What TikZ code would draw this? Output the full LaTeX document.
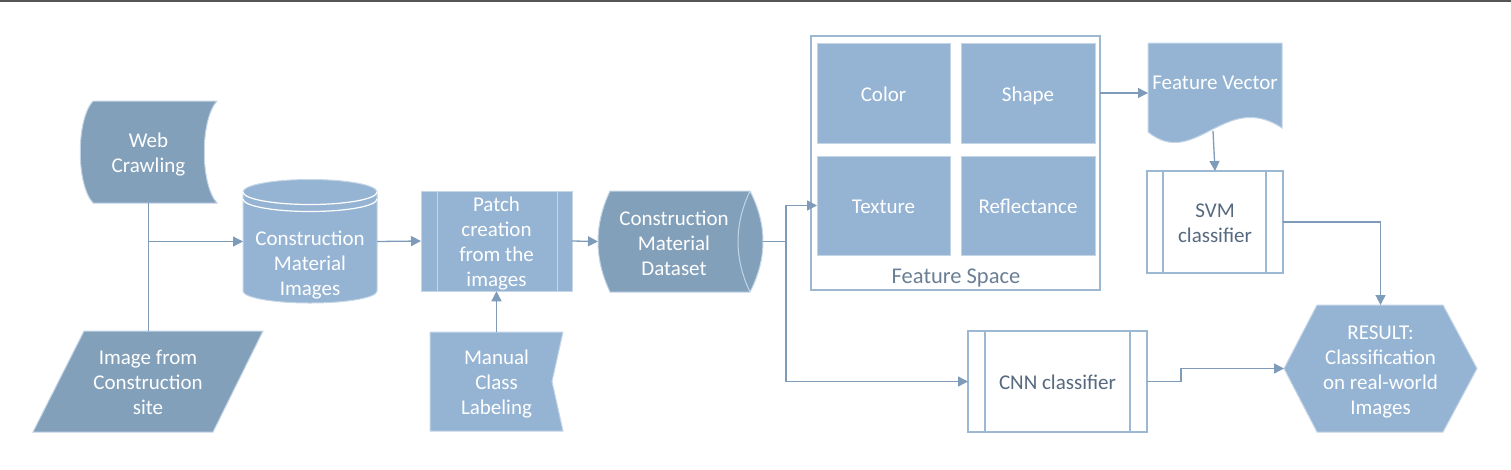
\documentclass[tikz,border=0pt]{standalone}
\usepackage{fontspec}
\setmainfont{Carlito}
\usetikzlibrary{arrows.meta,calc}
\definecolor{dk}{HTML}{82A0BA}
\definecolor{lt}{HTML}{95B4D3}
\definecolor{fl}{HTML}{C4D5E6}
\definecolor{wb}{HTML}{9DB8D3}
\definecolor{lnc}{HTML}{7E9CB9}
\definecolor{txd}{HTML}{56697F}
\definecolor{fst}{HTML}{6A7F95}
\definecolor{topl}{HTML}{555555}
\newcommand{\mytxt}[1]{\rule{0pt}{21pt}#1\rule[-4.5pt]{0pt}{4.5pt}}
\begin{document}
\begin{tikzpicture}[x=1pt,y=-1pt,
  every node/.style={inner sep=0pt, outer sep=0pt},
  lbl/.style={font=\fontsize{21}{25}\selectfont, align=center},
  wl/.style={lbl, text=white},
  gl/.style={lbl, text=txd},
  fillshape/.style={draw=fl, line width=1pt},
  whitebox/.style={draw=wb, line width=1.2pt, fill=white},
  fbox/.style={wl, fill=lt, draw=fl, line width=1pt},
  con/.style={draw=lnc, line width=1.3pt},
  arr/.style={con, -{Triangle[length=10pt,width=10pt]}},
]
\useasboundingbox (0,0) rectangle (1511,469);
\draw[topl, line width=1.5pt] (0,0.75) -- (1511,0.75);

% Web crawling
\filldraw[fill=dk, fillshape] (93,101) -- (217,101) .. controls (200,120) and (200,184) .. (217,203) -- (93,203) .. controls (76,184) and (76,120) .. (93,101) -- cycle;
\node[wl, minimum width=137pt, minimum height=102pt] (wc) at (148.5,152) {\mytxt{Web\\Crawling}};

% Image from construction site
\filldraw[fill=dk, fillshape] (84,331) -- (263,331) -- (213,432) -- (33,432) -- cycle;
\node[wl, minimum width=230pt, minimum height=101pt] (ims) at (148,381.5) {\mytxt{Image from\\Construction\\site}};

% Cylinder
\filldraw[fill=lt, fillshape] (243,192) -- (243,291) arc[start angle=180,end angle=0,x radius=67,y radius=12] -- (377,192) arc[start angle=0,end angle=-180,x radius=67,y radius=12.5] -- cycle;
\draw[white, line width=1.2pt] (377,192) arc[start angle=0,end angle=180,x radius=67,y radius=12.5];
\draw[white, line width=1.2pt] (377,199) arc[start angle=0,end angle=180,x radius=67,y radius=12.5];
\node[minimum width=134pt, minimum height=124pt] (cyl) at (310,241.5) {};
\node[wl] (cylt) at (310,262) {\mytxt{Construction\\Material\\Images}};

% Patch creation
\filldraw[fill=lt, fillshape] (421,191) rectangle (572,291);
\draw[fl, line width=1pt] (437,191) -- (437,291) (557,191) -- (557,291);
\node[wl, minimum width=151pt, minimum height=100pt] (pc) at (496.5,241) {\mytxt{Patch\\creation\\from the\\images}};

% Manual class labeling
\filldraw[fill=lt, fillshape] (430,332) -- (563,332) -- (552,381.5) -- (563,431) -- (430,431) -- cycle;
\node[wl, minimum width=133pt, minimum height=99pt] (mcl) at (496.5,381.5) {\mytxt{Manual\\Class\\Labeling}};

% Dataset
\filldraw[fill=dk, fillshape] (610,191) -- (750,191) .. controls (767.3,224.7) and (767.3,258.3) .. (750,292) -- (610,292) .. controls (594,258.3) and (594,224.7) .. (610,191) -- cycle;
\draw[fl, line width=1pt] (750,191) .. controls (734,224.7) and (734,258.3) .. (750,292);
\node[minimum width=165pt, minimum height=101pt] (ds) at (680.5,241.5) {};
\node[wl] (dst) at (674,242) {\mytxt{Construction\\Material\\Dataset}};

% Feature space
\node[whitebox, minimum width=289pt, minimum height=254pt] (fs) at (955.5,163) {};
\node[fbox, minimum width=133pt, minimum height=100pt] (col) at (883.5,93) {\mytxt{Color}};
\node[fbox, minimum width=134pt, minimum height=100pt] (shp) at (1028,93) {\mytxt{Shape}};
\node[fbox, minimum width=133pt, minimum height=99pt] (tex) at (883.5,205.5) {\mytxt{Texture}};
\node[fbox, minimum width=134pt, minimum height=99pt] (ref) at (1028,205.5) {\mytxt{Reflectance}};
\node[lbl, font=\fontsize{22.5}{26}\selectfont, text=fst] (fsl) at (956,275) {\mytxt{Feature Space}};

% Feature vector
\filldraw[fill=lt, fillshape] (1148,43) -- (1282,43) -- (1282,128) .. controls (1225,90) and (1195,170) .. (1148,132) -- cycle;
\node[minimum width=134pt, minimum height=100pt] (fv) at (1215,93) {};
\node[wl] (fvt) at (1215,81) {\mytxt{Feature Vector}};
\coordinate (fvb) at (1213,131);

% SVM
\node[whitebox, gl, minimum width=136pt, minimum height=102pt] (svm) at (1215,222) {\mytxt{SVM\\classifier}};
\draw[wb, line width=1.2pt] (1163,171) -- (1163,273) (1266,171) -- (1266,273);

% CNN
\node[whitebox, gl, minimum width=179pt, minimum height=101pt] (cnn) at (1057.5,381.5) {\mytxt{CNN classifier}};
\draw[wb, line width=1.2pt] (985,331) -- (985,432) (1130,331) -- (1130,432);

% Result
\filldraw[fill=lt, fillshape] (1317,305) -- (1443,305) -- (1477,368.5) -- (1443,432) -- (1317,432) -- (1284,368.5) -- cycle;
\node[wl, minimum width=193pt, minimum height=127pt] (res) at (1380.5,368.5) {\mytxt{RESULT:\\Classification\\on real-world\\Images}};

% Connectors
\coordinate (j1) at (wc.south |- cyl.west);
\draw[con] (wc.south) -- (wc.south |- ims.north);
\draw[arr] (j1) -- (cyl.west);
\draw[arr] (cyl.east) -- (pc.west);
\draw[arr] (mcl.north) -- (pc.south);
\draw[arr] (pc.east) -- (ds.west);
\coordinate (br) at (786,241.5);
\draw[con] (ds.east) -- (br);
\draw[arr] (br) |- (tex.west);
\draw[arr] (br) |- (cnn.west);
\draw[arr] (fs.east |- shp.east) -- (fv.west |- shp.east);
\draw[arr] (fvb) -- (svm.north);
\draw[arr] (svm.east) -| (res.north);
\draw[arr] (cnn.east) -- ++(34,0) |- (res.west);
\end{tikzpicture}
\end{document}
